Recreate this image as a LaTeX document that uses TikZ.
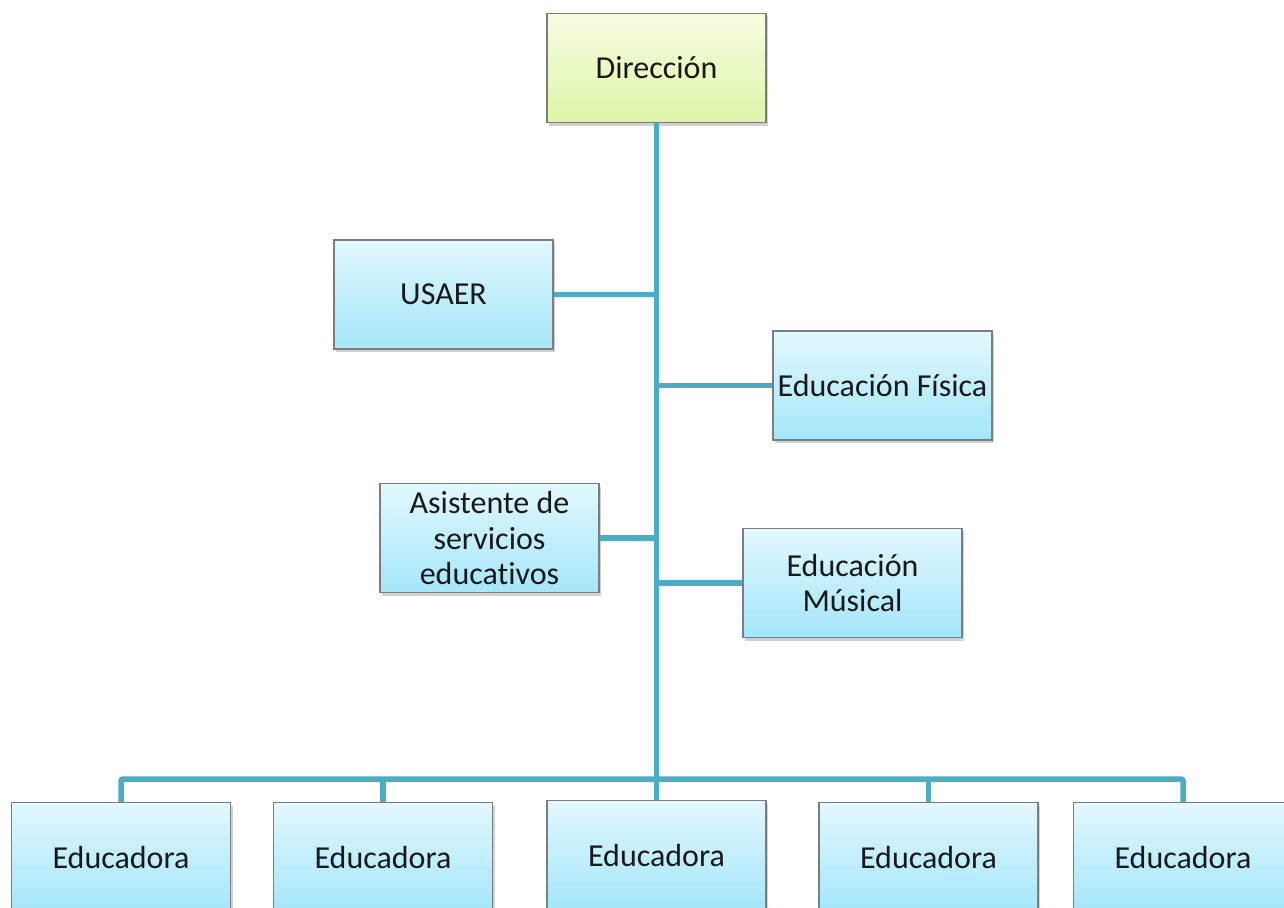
\documentclass[tikz,border=0pt]{standalone}
\usepackage{fontspec}
\setmainfont[Ligatures=NoCommon]{Carlito}
\usetikzlibrary{shadows}
\definecolor{linecol}{RGB}{75,172,198}
\definecolor{bluetop}{RGB}{226,248,254}
\definecolor{bluebot}{RGB}{164,230,250}
\definecolor{greentop}{RGB}{246,253,226}
\definecolor{greenbot}{RGB}{222,245,168}
\definecolor{boxedge}{RGB}{125,125,125}
\tikzset{
  orgbox/.style={rectangle, draw=boxedge, line width=1.2pt, minimum width=219pt, minimum height=109pt,
    inner sep=2pt, align=center, text=black!90,
    font=\fontsize{32}{35.5}\selectfont,
    top color=bluetop, bottom color=bluebot,
    drop shadow={shadow xshift=2pt, shadow yshift=-3pt, opacity=0.3, fill=black!60}},
  topbox/.style={orgbox, top color=greentop, bottom color=greenbot},
  conn/.style={draw=linecol, line width=5.5pt, rounded corners=2pt},
}
\begin{document}
\begin{tikzpicture}[x=1pt,y=-1pt]
\useasboundingbox (0,0) rectangle (1284,907);
\clip (0,0) rectangle (1284,907);
\node[topbox] (dir) at (656.5,68) {Direcci\'on};
\node[orgbox] (usaer) at (443.5,294.5) {USAER};
\node[orgbox] (fis) at (882.5,385.5) {Educaci\'on F\'isica};
\node[orgbox] (asis) at (489.5,538) {Asistente de\\servicios\\educativos};
\node[orgbox] (mus) at (852.5,583) {Educaci\'on\\M\'usical};
\node[orgbox] (e1) at (121,857) {Educadora};
\node[orgbox] (e2) at (383,857) {Educadora};
\node[orgbox] (e3) at (656.5,855) {Educadora};
\node[orgbox] (e4) at (928.5,857) {Educadora};
\node[orgbox] (e5) at (1183,857) {Educadora};
\coordinate (bus) at (656.5,779);
% trunk
\draw[conn] (dir.south) -- (e3.north);
% side branches
\draw[conn] (usaer.east) -- (usaer.east -| dir.south);
\draw[conn] (asis.east) -- (asis.east -| dir.south);
\draw[conn] (fis.west) -- (fis.west -| dir.south);
\draw[conn] (mus.west) -- (mus.west -| dir.south);
% bottom bus
\draw[conn] (e1.north) -- (e1.north |- bus) -- (e5.north |- bus) -- (e5.north);
\draw[conn] (e2.north) -- (e2.north |- bus);
\draw[conn] (e4.north) -- (e4.north |- bus);
\end{tikzpicture}
\end{document}
